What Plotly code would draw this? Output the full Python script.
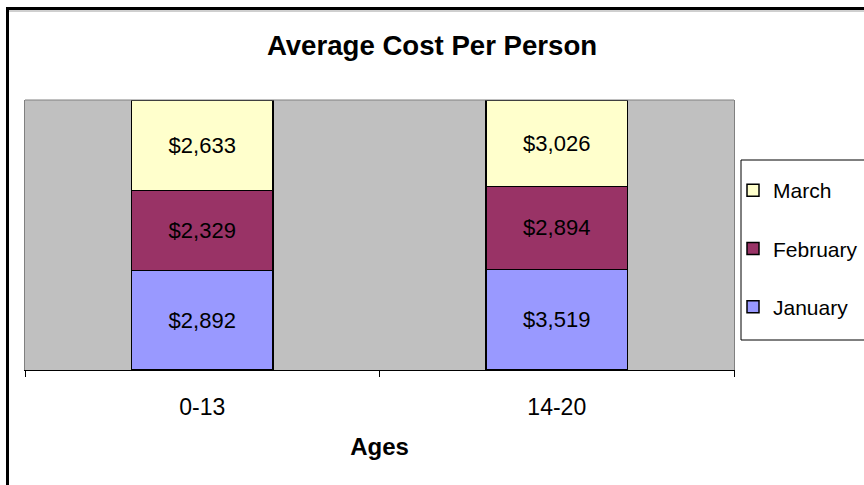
import plotly.graph_objects as go

categories = ["0-13", "14-20"]
series_names = ["January", "February", "March"]
january = [2892, 3519]
february = [2329, 2894]
march = [2633, 3026]
colors = ["#9999FF", "#993366", "#FFFFCC"]
legend_ranks = [3, 2, 1]

W, H = 864, 485
L, R, T, B = 25, 130, 100, 115
pw = W - L - R
ph = H - T - B

def px2x(px):
    return (px - L) / pw

def py2y(py):
    return 1 - (py - T) / ph

FONT = "Arial, Liberation Sans, sans-serif"

fig = go.Figure()
for name, vals, col, rk in zip(series_names, [january, february, march], colors, legend_ranks):
    fig.add_trace(go.Bar(
        x=categories, y=vals, name=name,
        marker=dict(color=col, line=dict(color="black", width=1.5)),
        text=[f"${v:,}" for v in vals],
        textposition="inside", insidetextanchor="middle",
        textfont=dict(family=FONT, size=22, color="black"),
        constraintext="none",
        width=0.4, legendgroup=name, legendrank=rk, hoverinfo="skip",
    ))

shapes = [
    dict(type="line", xref="paper", yref="paper", x0=0, x1=1, y0=1, y1=1,
         line=dict(color="#808080", width=1)),
    dict(type="rect", xref="paper", yref="paper",
         x0=px2x(741), x1=px2x(880), y0=py2y(340), y1=py2y(160),
         line=dict(color="black", width=1)),
    dict(type="line", xref="paper", yref="paper",
         x0=px2x(9), x1=px2x(880), y0=py2y(11), y1=py2y(11),
         line=dict(color="#A0A0A0", width=1)),
    dict(type="path", xref="paper", yref="paper",
         path=f"M {px2x(7.5)},{py2y(500)} L {px2x(7.5)},{py2y(8.5)} L {px2x(880)},{py2y(8.5)}",
         line=dict(color="black", width=3)),
]

fig.update_layout(
    width=W, height=H,
    margin=dict(l=L, r=R, t=T, b=B, autoexpand=False),
    paper_bgcolor="white", plot_bgcolor="#C0C0C0",
    barmode="stack", barnorm="percent",
    title=dict(text="<b>Average Cost Per Person</b>", x=0.5, xref="container", xanchor="center",
               y=1 - 45 / H, yanchor="middle",
               font=dict(family=FONT, size=27.6, color="black")),
    showlegend=True,
    legend=dict(x=px2x(733), y=py2y(170), xanchor="left", yanchor="top",
                bgcolor="rgba(0,0,0,0)", borderwidth=0,
                traceorder="grouped", tracegroupgap=28,
                font=dict(family=FONT, size=21, color="black"),
                itemwidth=30),
    xaxis=dict(range=[-0.5, 1.5], showline=True, linecolor="black", linewidth=1,
               ticks="outside", tickson="boundaries", ticklen=6, tickcolor="black",
               showgrid=False, ticklabelstandoff=16,
               tickfont=dict(family=FONT, size=23, color="black"),
               title=dict(text="<b>Ages</b>", standoff=19,
                          font=dict(family=FONT, size=24, color="black"))),
    yaxis=dict(range=[0, 100], showline=True, linecolor="#808080", linewidth=1, mirror=True,
               showticklabels=False, ticks="", showgrid=False, zeroline=False),
    shapes=shapes,
)

fig.write_html("out.html", config={"displayModeBar": False, "staticPlot": True},
               post_script="document.body.style.margin='0';document.body.style.overflow='hidden';")
